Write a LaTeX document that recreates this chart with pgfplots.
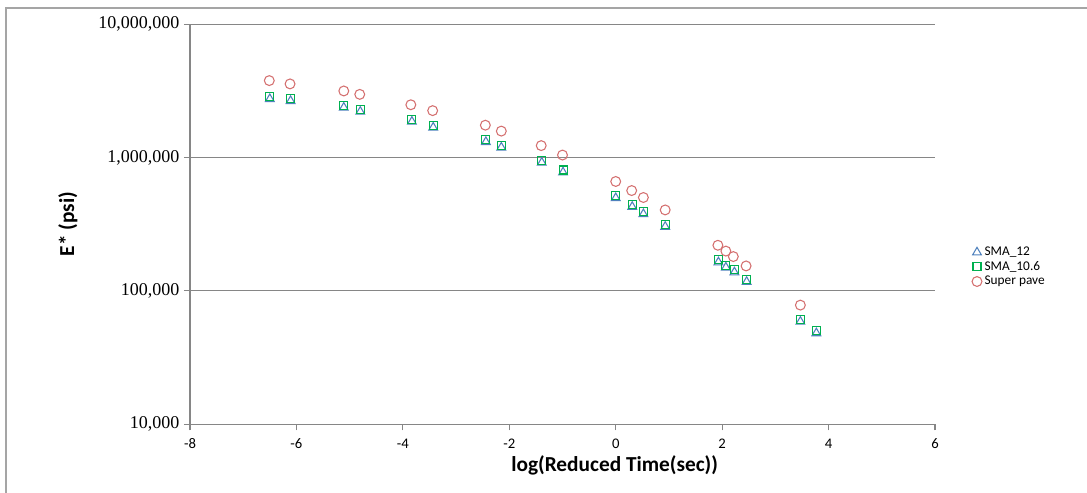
\documentclass[border=0pt]{standalone}
\usepackage{fontspec}
\setmainfont{Carlito}
\newfontfamily\tnr{Liberation Serif}
\usepackage{pgfplots}
\pgfplotsset{compat=1.18}
\definecolor{tri}{RGB}{79,129,189}
\definecolor{sq}{RGB}{0,176,80}
\definecolor{circ}{RGB}{212,112,112}
\definecolor{gridc}{RGB}{134,134,134}
\definecolor{framec}{RGB}{165,165,165}

\begin{document}
\begin{tikzpicture}
% 1 px of the reference = 0.75pt
\useasboundingbox (-142.5pt,-51.5pt) rectangle (672.75pt,318.2pt);
\draw[framec, line width=1.2pt] (-138pt,-60pt) -- (-138pt,312.2pt) -- (680pt,312.2pt);
\begin{axis}[at={(0,0)}, anchor=south west, scale only axis,
  width=558.75pt, height=300pt,
  xmin=-8, xmax=6, ymode=log, ymin=1e4, ymax=1e7,
  axis x line=bottom, axis y line=left,
  axis line style={gridc, line width=0.8pt, -},
  tick align=outside, major tick length=4.5pt,
  tick style={gridc, line width=0.8pt},
  minor tick num=0, yminorticks=false,
  xtick={-8,-6,-4,-2,0,2,4,6},
  xticklabels={-8,-6,-4,-2,0,2,4,6},
  ytick={1e4,1e5,1e6,1e7},
  yticklabels={{10,000},{100,000},{1,000,000},{10,000,000}},
  xticklabel style={font=\fontsize{11}{11}\selectfont, yshift=-3pt},
  yticklabel style={font=\tnr\fontsize{13.5}{13.5}\selectfont},
  ymajorgrids, major grid style={gridc, line width=0.8pt},
  xlabel={log(Reduced Time(sec))},
  ylabel={E* (psi)},
  xlabel style={font=\bfseries\fontsize{16}{16}\selectfont, at={(axis description cs:0.57,-0.104)}, anchor=center},
  ylabel style={font=\bfseries\fontsize{16}{16}\selectfont, at={(axis description cs:-0.164,0.5)}, anchor=center},
  legend style={at={(1.044,0.457)}, anchor=north west, draw=none, fill=none,
    font=\fontsize{10}{10}\selectfont, row sep=-1.2pt},
  legend cell align=left,
  clip=false]
\addplot[only marks, mark=triangle, mark size=3.8pt, color=tri,
  mark options={draw=tri, line width=0.8pt}] coordinates {
(-6.50,2.75e6) (-6.11,2.66e6) (-5.11,2.37e6) (-4.80,2.21e6) (-3.83,1.86e6)
(-3.43,1.68e6) (-2.44,1.31e6) (-2.15,1.19e6) (-1.39,9.17e5) (-0.99,7.75e5)
(0.00,4.97e5) (0.31,4.27e5) (0.52,3.77e5) (0.93,3.03e5) (1.93,1.64e5)
(2.07,1.50e5) (2.23,1.38e5) (2.46,1.17e5) (3.47,5.88e4) (3.77,4.82e4)};
\addplot[only marks, mark=square, mark size=3pt, color=sq,
  mark options={draw=sq, line width=0.8pt}] coordinates {
(-6.50,2.86e6) (-6.11,2.77e6) (-5.11,2.47e6) (-4.80,2.30e6) (-3.83,1.94e6)
(-3.43,1.75e6) (-2.44,1.37e6) (-2.15,1.24e6) (-1.39,9.55e5) (-0.99,8.07e5)
(0.00,5.18e5) (0.31,4.45e5) (0.52,3.93e5) (0.93,3.16e5) (1.93,1.71e5)
(2.07,1.56e5) (2.23,1.44e5) (2.46,1.22e5) (3.47,6.12e4) (3.77,5.02e4)};
\addplot[only marks, mark=o, mark size=3.7pt, color=circ,
  mark options={draw=circ, line width=0.8pt}] coordinates {
(-6.51,3.78e6) (-6.12,3.57e6) (-5.11,3.16e6) (-4.81,2.98e6) (-3.85,2.49e6)
(-3.44,2.25e6) (-2.45,1.75e6) (-2.15,1.58e6) (-1.40,1.23e6) (-1.00,1.045e6)
(0.00,6.62e5) (0.30,5.66e5) (0.52,5.02e5) (0.93,4.05e5) (1.92,2.20e5)
(2.07,1.99e5) (2.21,1.81e5) (2.45,1.54e5) (3.47,7.83e4)};
\legend{SMA\_12, SMA\_10.6, Super pave}
\end{axis}
\end{tikzpicture}
\end{document}
